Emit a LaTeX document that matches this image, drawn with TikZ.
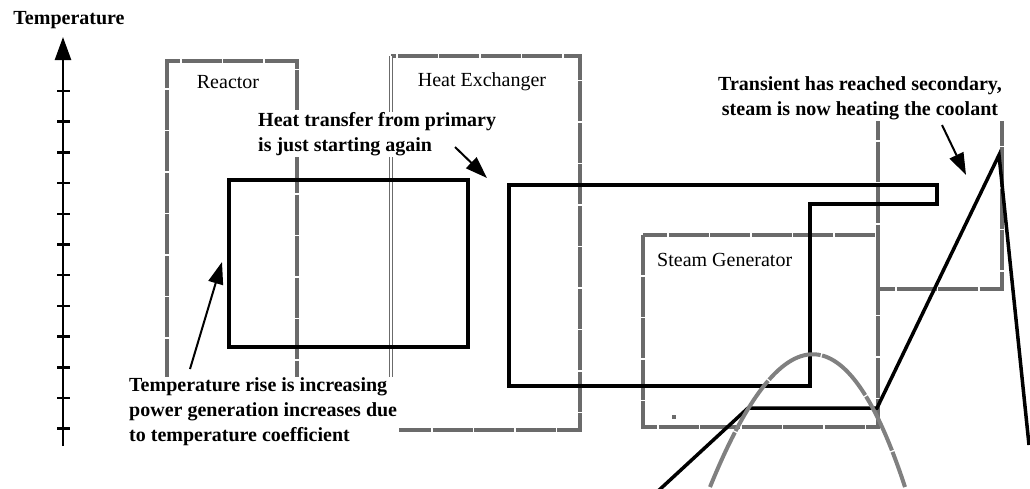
\documentclass[tikz,border=0pt]{standalone}
\usepackage{fontspec}
\setmainfont{Liberation Serif}
\usetikzlibrary{arrows.meta, positioning}

\begin{document}
\begin{tikzpicture}[x=1pt, y=-1pt,
    unit/.style={draw=black!58, line width=4pt, dash pattern=on 40pt off 1.5pt},
    trace/.style={draw, line width=3.5pt, line join=miter},
    curve/.style={draw=black!50, line width=4pt, dash pattern=on 60pt off 1.5pt},
    title/.style={font=\fontsize{20}{24}\selectfont, inner sep=1pt},
    note/.style={font=\fontsize{20}{25}\selectfont\bfseries, fill=white, inner xsep=2pt, inner ysep=1pt},
    pointer/.style={-{Triangle[length=22pt, width=15pt]}, line width=2pt}
  ]
  \useasboundingbox (0,0) rectangle (1030,488);

  % temperature axis
  \node[font=\fontsize{20}{24}\selectfont\bfseries] (axislabel) at (69,20) {Temperature};
  \coordinate (axisbot) at (63,446);
  \coordinate (axistop) at (63,37);
  \draw[-{Triangle[length=23pt, width=16pt]}, line width=2.5pt] (axisbot) -- (axistop);
  \foreach \k in {0,...,11}
    \draw[line width=2.5pt] (57,{91+30.7*\k}) -- (70,{91+30.7*\k});

  % plant units
  \draw[unit] (167,420) -- (167,61) -- (297,61) -- (297,420) -- cycle;
  \draw[unit] (391,430) -- (580,430) -- (580,56) -- (391,56);
  \draw[draw=black!58, line width=1.2pt, double=white, double distance=1.6pt] (391,56) -- (391,430);
  \draw[unit] (643,235) rectangle (878,427);
  \draw[unit] (878,100) rectangle (1002,289);
  \fill[black!58] (672,415) rectangle (676,419);

  \node[title] (reactorlabel) at (228,82) {Reactor};
  \node[title] (hxlabel) at (482,82) {Heat Exchanger};
  \node[title, anchor=west] (sglabel) at (656,260) {Steam Generator};

  % temperature traces
  \draw[trace] (229,180) rectangle (468,347);
  \draw[trace] (509,185) -- (937,185) -- (937,204) -- (810,204) -- (810,386) -- (509,386) -- cycle;
  \draw[trace] (657,492) -- (748,408) -- (877,408) -- (999,155) -- (1029,445);
  \draw[curve] (710,487) .. controls (782,310) and (847,310) .. (905,487);

  % notes
  \node[note, align=left, anchor=west] (xfernote) at (256,134.5) {Heat transfer from primary\\is just starting again};
  \node[note, align=center] (transnote) at (860,98) {Transient has reached secondary,\\steam is now heating the coolant};
  \node[note, align=left, anchor=west] (risenote) at (127,412) {Temperature rise is increasing\\power generation increases due\\to temperature coefficient};

  \coordinate (xfertail) at (455,147);
  \coordinate (xfertip) at (487,178);
  \coordinate (transtail) at (942,125);
  \coordinate (transtip) at (966,175);
  \coordinate (risetail) at (190,369);
  \coordinate (risetip) at (222,262);
  \draw[pointer] (xfertail) -- (xfertip);
  \draw[pointer] (transtail) -- (transtip);
  \draw[pointer] (risetail) -- (risetip);
\end{tikzpicture}
\end{document}
